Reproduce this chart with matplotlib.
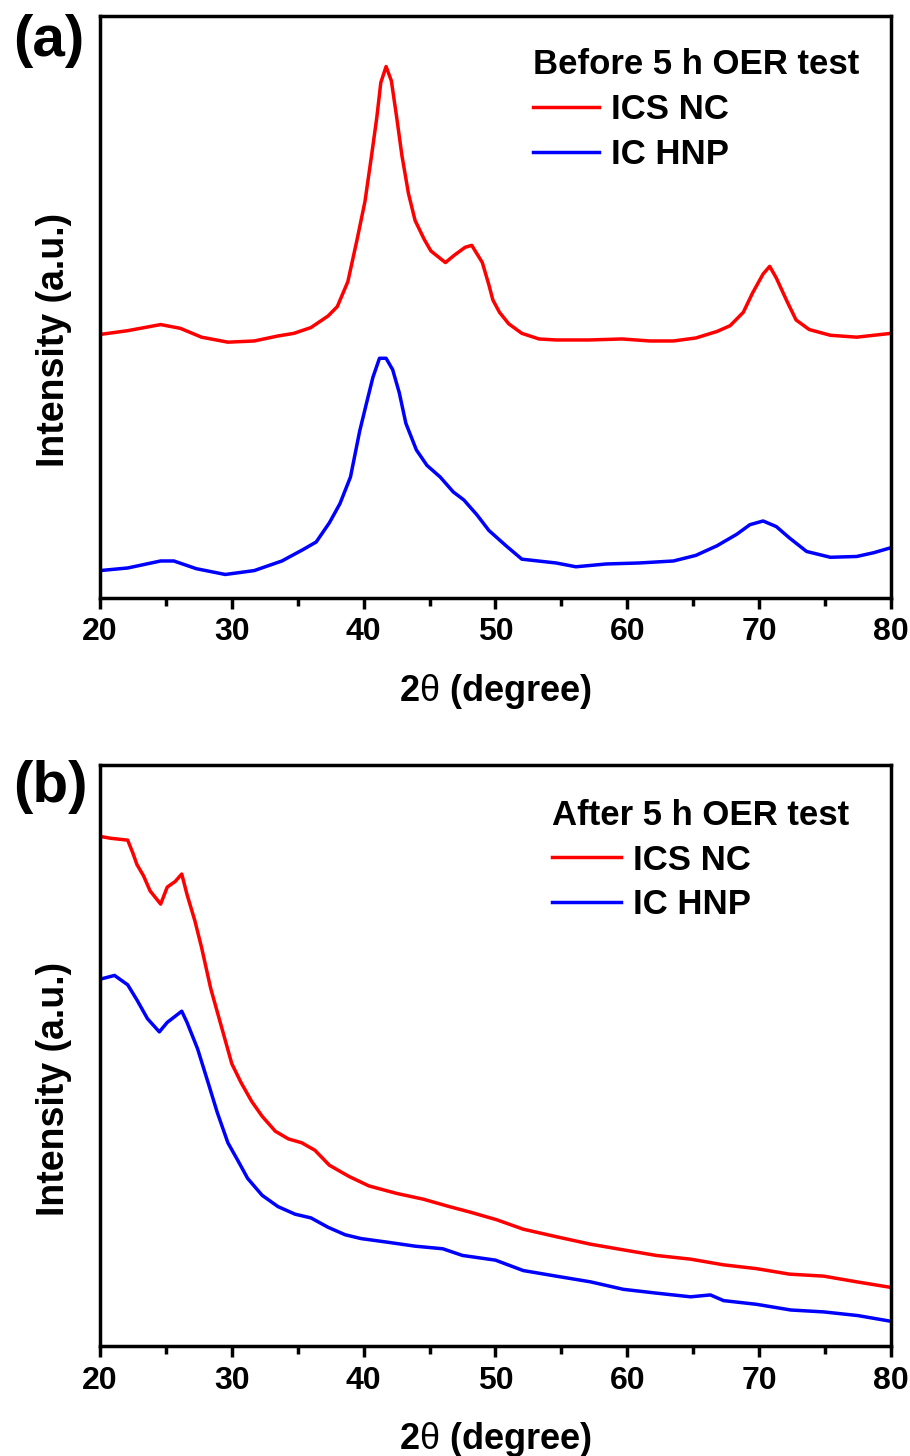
import matplotlib
matplotlib.use("Agg")
import matplotlib.pyplot as plt
from matplotlib.ticker import MultipleLocator

plt.rcParams['font.family'] = ['Liberation Sans', 'DejaVu Sans']
plt.rcParams['font.weight'] = 'bold'
# thin upright theta as in the original axis label
plt.rcParams['mathtext.fontset'] = 'custom'
plt.rcParams['mathtext.rm'] = 'Liberation Sans:normal'

# ---- data (2theta in degree, intensity in a.u.) ----
# (a) before 5 h OER test
a_ics_x = [20.0, 22.1, 24.6, 26.1, 27.7, 29.7, 31.7, 33.5, 34.7, 36.0, 37.3, 38.0,
           38.8, 39.5, 40.1, 40.6, 41.0, 41.3, 41.7, 42.1, 42.5, 42.9, 43.4, 43.9,
           44.6, 45.1, 46.2, 46.9, 47.7, 48.2, 49.0, 49.5, 49.8, 50.3, 51.0, 52.0,
           53.3, 54.6, 57.1, 59.6, 61.7, 63.5, 65.2, 66.8, 67.8, 68.8, 69.5, 70.3,
           70.8, 71.3, 72.1, 72.8, 73.8, 75.4, 77.4, 78.7, 80.0]
a_ics_y = [263.5, 267.3, 273.4, 269.6, 260.8, 255.8, 257.0, 262.0, 264.6, 270.4, 282.0, 291.4,
           316.3, 358.4, 396.6, 442.6, 480.8, 515.3, 531.4, 517.2, 481.0, 442.6, 404.3, 377.5,
           358.4, 347.0, 335.4, 343.0, 350.7, 352.6, 335.4, 313.0, 298.0, 285.7, 274.2, 264.6,
           259.0, 258.0, 258.0, 259.0, 257.0, 257.0, 260.0, 266.5, 272.3, 285.7, 305.0, 324.0,
           331.6, 320.0, 297.0, 278.0, 268.4, 262.7, 260.8, 262.7, 264.6]

a_ic_x = [20.0, 22.1, 24.6, 25.6, 27.3, 29.5, 31.7, 33.8, 35.4, 36.4, 37.4, 38.2,
          39.0, 39.7, 40.2, 40.7, 41.2, 41.7, 42.2, 42.7, 43.2, 44.0, 44.8, 45.8,
          46.8, 47.6, 48.6, 49.5, 50.8, 52.0, 54.6, 56.1, 58.4, 60.9, 63.5, 65.2,
          66.8, 68.3, 69.3, 70.3, 71.3, 72.3, 73.6, 75.4, 77.4, 78.7, 80.0]
a_ic_y = [27.4, 30.0, 37.0, 37.0, 29.3, 23.5, 27.4, 37.0, 48.4, 56.0, 75.2, 94.3,
          121.0, 167.0, 194.0, 220.6, 239.7, 239.7, 228.3, 205.3, 174.7, 148.0, 132.6, 121.0,
          106.0, 98.0, 83.0, 67.5, 52.2, 38.8, 35.0, 31.2, 34.0, 35.0, 37.0, 42.6,
          52.2, 63.7, 73.3, 77.0, 71.4, 60.0, 46.5, 40.7, 41.5, 45.3, 50.3]

# (b) after 5 h OER test
b_ics_x = [20.0, 20.8, 22.1, 22.5, 22.8, 23.3, 23.8, 24.6, 25.1, 25.7, 26.2, 26.6,
           27.2, 27.7, 28.4, 29.2, 30.0, 30.7, 31.5, 32.3, 33.3, 34.3, 35.3, 36.3,
           37.4, 38.9, 40.4, 42.5, 44.5, 46.5, 48.1, 50.1, 52.1, 54.6, 57.2, 59.7,
           62.2, 64.8, 67.3, 69.8, 72.3, 74.9, 77.4, 80.0]
b_ics_y = [510.2, 508.3, 506.4, 493.2, 482.0, 470.7, 455.6, 442.4, 459.4, 465.0, 472.5, 452.0,
           425.5, 399.2, 357.8, 320.2, 282.5, 263.7, 245.0, 230.0, 215.0, 207.3, 203.5, 196.0,
           181.0, 169.7, 160.3, 152.8, 147.1, 139.6, 134.0, 126.4, 117.0, 109.5, 102.0, 96.3,
           90.7, 87.0, 81.3, 77.5, 72.0, 70.0, 64.3, 58.7]

b_ic_x = [20.0, 21.1, 22.1, 22.8, 23.6, 24.5, 25.1, 26.2, 26.6, 27.4, 28.2, 28.9,
          29.7, 30.5, 31.2, 32.3, 33.5, 34.8, 36.0, 37.3, 38.6, 39.8, 41.9, 43.9,
          46.0, 47.5, 50.0, 52.1, 54.6, 57.2, 59.7, 62.2, 64.8, 66.3, 67.3, 69.8,
          72.4, 74.9, 77.5, 80.0]
b_ic_y = [367.2, 371.0, 361.6, 346.5, 327.7, 314.5, 324.0, 335.2, 324.0, 297.6, 263.7, 233.6,
          203.5, 184.7, 167.8, 150.9, 139.6, 132.0, 128.3, 118.9, 111.4, 107.6, 103.8, 100.0,
          97.4, 90.7, 86.0, 75.6, 70.0, 64.3, 56.8, 53.0, 49.3, 51.2, 45.5, 41.8,
          36.1, 34.2, 30.5, 24.8]

panels = [
    ("(a)", "Before 5 h OER test", a_ics_x, a_ics_y, a_ic_x, a_ic_y),
    ("(b)", "After 5 h OER test", b_ics_x, b_ics_y, b_ic_x, b_ic_y),
]

fig = plt.figure(figsize=(9.1, 14.56), dpi=100)

# axes rectangles (figure fraction)
rects = [[0.1099, 0.5893, 0.8692, 0.3994],
         [0.1099, 0.0755, 0.8692, 0.3990]]
leg_anchor = [(0.547, 0.945), (0.571, 0.942)]
handle_len = [1.9, 2.0]
label_top = [14, 760]

for i, (tag, title, x1, y1, x2, y2) in enumerate(panels):
    ax = fig.add_axes(rects[i])
    ax.plot(x1, y1, color='#ff0000', lw=2.5, label='ICS NC')
    ax.plot(x2, y2, color='#0000ff', lw=2.5, label='IC HNP')

    ax.set_xlim(20, 80)
    ax.set_ylim(0, 581.5)
    ax.xaxis.set_major_locator(MultipleLocator(10))
    ax.xaxis.set_minor_locator(MultipleLocator(5))
    ax.set_yticks([])
    ax.tick_params(axis='x', which='major', direction='out', length=8, width=2.5,
                   pad=6, labelsize=23)
    ax.tick_params(axis='x', which='minor', direction='out', length=5.5, width=2.5)
    for lab in ax.get_xticklabels():
        lab.set_fontweight('bold')
    for sp in ax.spines.values():
        sp.set_linewidth(2.5)

    ax.set_xlabel(r"2$\mathrm{\theta}$ (degree)", fontsize=26, fontweight='bold')
    ax.xaxis.set_label_coords(0.5, -0.127)
    ax.set_ylabel("Intensity (a.u.)", fontsize=27, fontweight='bold')
    ax.yaxis.set_label_coords(-0.036, 0.443)

    leg = ax.legend(loc='upper left', bbox_to_anchor=leg_anchor[i], frameon=False,
                    title=title, alignment='left', fontsize=25,
                    title_fontproperties={'weight': 'bold', 'size': 25},
                    handlelength=handle_len[i], handletextpad=0.35,
                    labelspacing=0.34, borderpad=0, borderaxespad=0)
    for t in leg.get_texts():
        t.set_fontweight('bold')

    fig.text(13 / 910, 1 - label_top[i] / 1456, tag, fontsize=42, fontweight='bold',
             ha='left', va='top')

fig.savefig("out.png", dpi=100)
